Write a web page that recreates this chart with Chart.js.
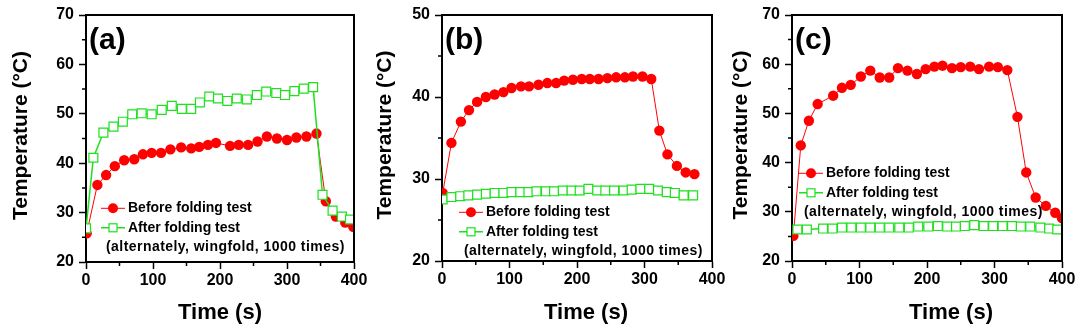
<!DOCTYPE html>
<html>
<head>
<meta charset="utf-8">
<script src="https://cdn.jsdelivr.net/npm/chart.js@4/dist/chart.umd.min.js"></script>
<style>
  html, body { margin: 0; padding: 0; background: #fff; }
  #wrap { position: relative; width: 1080px; height: 330px; overflow: hidden; background: #fff; }
  #wrap canvas { position: absolute; left: 0; top: 0; }
</style>
</head>
<body>
<div id="wrap">
  <canvas id="panelA" width="1080" height="330"></canvas>
  <canvas id="panelB" width="1080" height="330"></canvas>
  <canvas id="panelC" width="1080" height="330"></canvas>
</div>
<script>
// ---- Series labels ----
const seriesNames = ['Before folding test', 'After folding test'];
const legendNote = '(alternately, wingfold, 1000 times)';
const panelTags = ['(a)', '(b)', '(c)'];
const xTitle = 'Time (s)';
const yTitle = 'Temperature (\u00B0C)';

// ---- Panel (a) ----
const timeA_before = [1, 17, 30, 43, 57, 72, 85, 98, 112, 126, 142, 157, 169, 182, 194, 215, 228, 242, 256, 270, 285, 300, 314, 329, 344, 358, 373, 387, 399];
const tempA_before = [25.8, 35.6, 37.6, 39.4, 40.6, 40.8, 41.8, 42.1, 42.1, 42.8, 43.2, 43.0, 43.3, 43.7, 44.1, 43.5, 43.7, 43.7, 44.4, 45.4, 45.0, 44.7, 45.2, 45.4, 46.0, 32.3, 29.2, 28.0, 27.1];
const timeA_after = [0, 11, 26, 41, 55, 69, 83, 98, 113, 128, 143, 157, 170, 184, 197, 211, 225, 240, 255, 269, 284, 297, 311, 325, 339, 353, 368, 382, 394];
const tempA_after = [26.8, 41.1, 46.2, 47.4, 48.4, 49.9, 50.1, 49.9, 50.8, 51.6, 51.0, 51.0, 52.3, 53.5, 53.1, 52.6, 53.1, 52.9, 53.8, 54.5, 54.2, 53.8, 54.6, 55.1, 55.4, 33.6, 30.4, 29.2, 28.6];

// ---- Panel (b) ----
const timeB_before = [1, 14, 28, 40, 52, 65, 78, 91, 103, 117, 129, 143, 156, 169, 181, 194, 207, 219, 232, 245, 258, 271, 283, 297, 310, 322, 334, 348, 361, 374];
const tempB_before = [28.3, 34.4, 37.0, 38.4, 39.4, 40.0, 40.3, 40.6, 41.1, 41.3, 41.3, 41.5, 41.7, 41.7, 42.0, 42.1, 42.2, 42.2, 42.2, 42.3, 42.4, 42.4, 42.5, 42.5, 42.2, 35.9, 33.0, 31.6, 30.8, 30.6];
const timeB_after = [1, 14, 27, 39, 52, 65, 78, 91, 103, 116, 128, 140, 154, 166, 179, 192, 204, 217, 230, 242, 255, 269, 281, 294, 307, 320, 333, 345, 358, 372];
const tempB_after = [27.5, 27.8, 27.9, 28.0, 28.1, 28.2, 28.3, 28.3, 28.4, 28.4, 28.4, 28.5, 28.5, 28.5, 28.6, 28.6, 28.6, 28.8, 28.6, 28.6, 28.6, 28.6, 28.7, 28.8, 28.8, 28.6, 28.4, 28.3, 28.0, 28.0];

// ---- Panel (c) ----
const timeC_before = [2, 13, 25, 38, 61, 74, 87, 102, 116, 130, 144, 157, 171, 185, 198, 211, 223, 237, 250, 264, 277, 292, 305, 319, 334, 347, 361, 376, 390, 400];
const tempC_before = [25.1, 43.5, 48.5, 51.9, 53.6, 55.2, 55.8, 57.5, 58.7, 57.3, 57.3, 59.2, 58.7, 58.0, 59.0, 59.5, 59.7, 59.2, 59.4, 59.5, 59.0, 59.5, 59.4, 58.8, 49.3, 38.0, 32.9, 31.2, 29.8, 28.7];
const timeC_after = [8, 22, 46, 60, 74, 88, 102, 116, 130, 144, 159, 173, 187, 202, 216, 230, 243, 256, 270, 284, 298, 312, 326, 339, 353, 368, 381, 393];
const tempC_after = [26.4, 26.4, 26.6, 26.6, 26.8, 26.8, 26.8, 26.8, 26.8, 26.8, 26.8, 26.8, 27.0, 27.0, 27.1, 27.0, 27.0, 27.1, 27.3, 27.1, 27.1, 27.1, 27.1, 27.0, 27.0, 26.8, 26.6, 26.4];

// ---- Styling ----
const RED = '#ff0000';
const GREEN = '#1ee01e';
const FONT = "'Liberation Sans', Arial, Helvetica, sans-serif";
const Y_AXIS_W = 40;
const X_AXIS_H = 30;

function pairs(xs, ys) {
  return xs.map((x, i) => ({ x: x, y: ys[i] }));
}

// Frame, minor ticks, axis titles, panel tag and in-plot legend
const panelDecor = {
  id: 'panelDecor',
  afterDraw(chart, args, o) {
    const ctx = chart.ctx;
    const a = chart.chartArea;
    const xs = chart.scales.x, ys = chart.scales.y;
    ctx.save();

    // top and right frame lines
    ctx.strokeStyle = '#000';
    ctx.lineWidth = 2;
    ctx.beginPath();
    ctx.moveTo(a.left - 1, a.top);
    ctx.lineTo(a.right, a.top);
    ctx.lineTo(a.right, a.bottom + 1);
    ctx.stroke();

    // minor ticks at midpoints between major ticks
    ctx.lineWidth = 1.5;
    ctx.beginPath();
    for (let i = 0; i < xs.ticks.length - 1; i++) {
      const v = (xs.ticks[i].value + xs.ticks[i + 1].value) / 2;
      const px = xs.getPixelForValue(v);
      ctx.moveTo(px, a.bottom);
      ctx.lineTo(px, a.bottom + 4);
    }
    for (let i = 0; i < ys.ticks.length - 1; i++) {
      const v = (ys.ticks[i].value + ys.ticks[i + 1].value) / 2;
      const py = ys.getPixelForValue(v);
      ctx.moveTo(a.left, py);
      ctx.lineTo(a.left - 4, py);
    }
    ctx.stroke();

    ctx.fillStyle = '#000';

    // panel tag
    ctx.font = 'bold 30px ' + FONT;
    ctx.textAlign = 'left';
    ctx.textBaseline = 'middle';
    ctx.fillText(o.tag, a.left + 3, a.top + 26);

    // x title
    ctx.font = 'bold 22px ' + FONT;
    ctx.textAlign = 'center';
    ctx.textBaseline = 'middle';
    ctx.fillText(xTitle, (a.left + a.right) / 2 + o.xTitleShift, 313);

    // y title
    ctx.save();
    ctx.translate(a.left - o.yTitleGap, (a.top + a.bottom) / 2 - 3);
    ctx.rotate(-Math.PI / 2);
    ctx.font = 'bold 21px ' + FONT;
    ctx.textAlign = 'center';
    ctx.textBaseline = 'middle';
    ctx.fillText(yTitle, 0, 0);
    ctx.restore();

    // legend
    const lx = a.left + o.legend.x;
    const rows = [a.top + o.legend.y, a.top + o.legend.y + 19.5];
    const textX = lx + 27;
    // row 1: red line with filled circle
    ctx.strokeStyle = RED;
    ctx.lineWidth = 1;
    ctx.beginPath();
    ctx.moveTo(lx, rows[0]);
    ctx.lineTo(lx + 24, rows[0]);
    ctx.stroke();
    ctx.fillStyle = RED;
    ctx.beginPath();
    ctx.arc(lx + 12, rows[0], 5, 0, Math.PI * 2);
    ctx.fill();
    // row 2: green line with open square
    ctx.strokeStyle = GREEN;
    ctx.lineWidth = 1.5;
    ctx.beginPath();
    ctx.moveTo(lx, rows[1]);
    ctx.lineTo(lx + 8, rows[1]);
    ctx.moveTo(lx + 16, rows[1]);
    ctx.lineTo(lx + 24, rows[1]);
    ctx.stroke();
    ctx.fillStyle = '#fff';
    ctx.fillRect(lx + 8, rows[1] - 4, 8, 8);
    ctx.lineWidth = 1.2;
    ctx.strokeRect(lx + 8, rows[1] - 4, 8, 8);

    ctx.fillStyle = '#000';
    ctx.font = 'bold 14px ' + FONT;
    ctx.textAlign = 'left';
    ctx.textBaseline = 'middle';
    ctx.fillText(seriesNames[0], textX, rows[0]);
    ctx.fillText(seriesNames[1], textX, rows[1]);
    ctx.letterSpacing = '0.45px';
    ctx.fillText(legendNote, lx + o.legend.noteX, rows[1] + 19.5);
    ctx.letterSpacing = '0px';

    ctx.restore();
  }
};

function makePanel(id, p) {
  const tickFont = { family: FONT, size: 16, weight: 'bold' };
  return new Chart(document.getElementById(id), {
    type: 'line',
    data: {
      datasets: [
        {
          label: seriesNames[0],
          data: pairs(p.tBefore, p.vBefore),
          borderColor: RED,
          backgroundColor: RED,
          borderWidth: 1,
          pointStyle: 'circle',
          pointRadius: 5.2,
          pointBorderWidth: 0,
          pointBackgroundColor: RED,
          pointBorderColor: RED,
          order: 1
        },
        {
          label: seriesNames[1],
          data: pairs(p.tAfter, p.vAfter),
          borderColor: GREEN,
          backgroundColor: '#fff',
          borderWidth: 1.5,
          pointStyle: 'rect',
          pointRadius: 6.3,
          pointBorderWidth: 1.2,
          pointBackgroundColor: '#fff',
          pointBorderColor: GREEN,
          order: 0
        }
      ]
    },
    options: {
      responsive: false,
      animation: false,
      devicePixelRatio: 1,
      layout: {
        padding: {
          left: p.area.left - Y_AXIS_W,
          right: 1080 - p.area.right,
          top: p.area.top,
          bottom: 330 - p.area.bottom - X_AXIS_H
        }
      },
      plugins: {
        legend: { display: false },
        tooltip: { enabled: false },
        panelDecor: p.decor
      },
      scales: {
        x: {
          type: 'linear',
          min: 0,
          max: 400,
          ticks: { stepSize: 100, font: tickFont, color: '#000', padding: 2, maxRotation: 0 },
          grid: { drawOnChartArea: false, drawTicks: true, tickLength: 7, tickWidth: 1.5, tickColor: '#000' },
          border: { display: true, color: '#000', width: 2 },
          afterFit(s) { s.height = X_AXIS_H; }
        },
        y: {
          type: 'linear',
          min: p.yMin,
          max: p.yMax,
          ticks: { stepSize: 10, font: tickFont, color: '#000', padding: 5 },
          grid: { drawOnChartArea: false, drawTicks: true, tickLength: 7, tickWidth: 1.5, tickColor: '#000' },
          border: { display: true, color: '#000', width: 2 },
          afterFit(s) { s.width = Y_AXIS_W; }
        }
      }
    },
    plugins: [panelDecor]
  });
}

makePanel('panelA', {
  tBefore: timeA_before, vBefore: tempA_before,
  tAfter: timeA_after, vAfter: tempA_after,
  yMin: 20, yMax: 70,
  area: { left: 86, right: 354, top: 15, bottom: 262 },
  decor: { tag: panelTags[0], xTitleShift: 0, yTitleGap: 65, legend: { x: 15, y: 193.3, noteX: 5 } }
});

makePanel('panelB', {
  tBefore: timeB_before, vBefore: tempB_before,
  tAfter: timeB_after, vAfter: tempB_after,
  yMin: 20, yMax: 50,
  area: { left: 442, right: 712, top: 15, bottom: 261 },
  decor: { tag: panelTags[1], xTitleShift: 9, yTitleGap: 57, legend: { x: 17, y: 197.3, noteX: 5 } }
});

makePanel('panelC', {
  tBefore: timeC_before, vBefore: tempC_before,
  tAfter: timeC_after, vAfter: tempC_after,
  yMin: 20, yMax: 70,
  area: { left: 792, right: 1062, top: 15, bottom: 261 },
  decor: { tag: panelTags[2], xTitleShift: 24, yTitleGap: 51, legend: { x: 7, y: 158.3, noteX: 5 } }
});
</script>
</body>
</html>
